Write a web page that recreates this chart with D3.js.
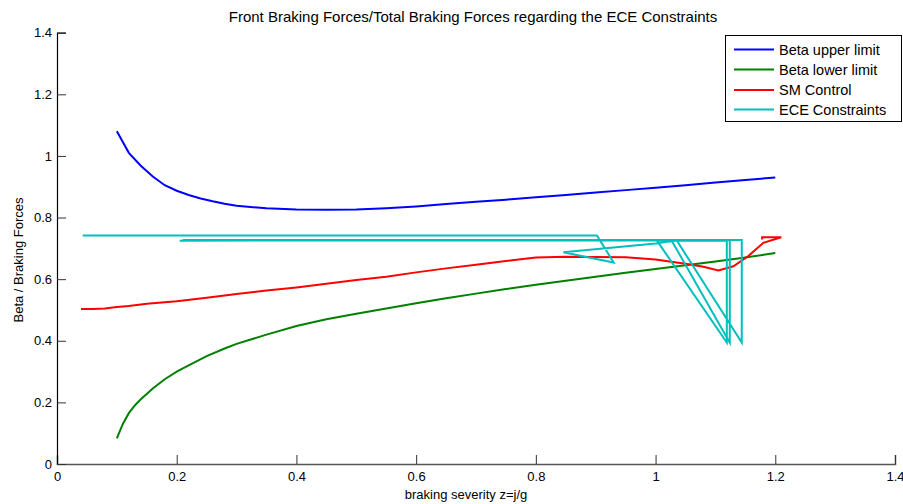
<!DOCTYPE html>
<html><head><meta charset="utf-8">
<script src="https://cdn.jsdelivr.net/npm/d3@7"></script>
<style>body{margin:0;background:#fff}svg{display:block;font-family:"Liberation Sans",Arial,sans-serif}</style>
</head><body><svg id="c" width="903" height="504"></svg>
<script>
const title = "Front Braking Forces/Total Braking Forces regarding the ECE Constraints";
const xLabel = "braking severity z=j/g";
const yLabel = "Beta / Braking Forces";
const xTicks = [0, 0.2, 0.4, 0.6, 0.8, 1, 1.2, 1.4];
const yTicks = [0, 0.2, 0.4, 0.6, 0.8, 1, 1.2, 1.4];
const seriesNames = ["Beta upper limit", "Beta lower limit", "SM Control", "ECE Constraints"];
const seriesColors = ["#0000ff", "#008000", "#ff0000", "#00bfbf"];

const upperX = [0.10,0.12,0.14,0.16,0.18,0.20,0.22,0.24,0.26,0.28,0.30,0.35,0.40,0.45,0.50,0.55,0.60,0.65,0.70,0.75,0.80,0.85,0.90,0.95,1.00,1.05,1.10,1.15,1.20];
const upperY = [1.08,1.01,0.968,0.933,0.905,0.887,0.873,0.862,0.853,0.845,0.838,0.830,0.826,0.825,0.826,0.830,0.836,0.844,0.851,0.858,0.866,0.873,0.881,0.889,0.897,0.905,0.914,0.922,0.930];

const lowerX = [0.10,0.11,0.12,0.13,0.14,0.16,0.18,0.20,0.22,0.25,0.28,0.30,0.35,0.40,0.45,0.50,0.55,0.60,0.65,0.70,0.75,0.80,0.85,0.90,0.95,1.00,1.05,1.10,1.15,1.20];
const lowerY = [0.083,0.13,0.165,0.19,0.21,0.245,0.275,0.30,0.32,0.35,0.375,0.39,0.42,0.448,0.47,0.488,0.505,0.522,0.538,0.553,0.568,0.582,0.595,0.608,0.621,0.633,0.645,0.657,0.670,0.685];

const smX = [0.04,0.06,0.08,0.10,0.12,0.15,0.20,0.25,0.30,0.35,0.40,0.45,0.50,0.55,0.60,0.65,0.70,0.75,0.80,0.85,0.90,0.95,1.00,1.05,1.08,1.105,1.13,1.155,1.18,1.21,1.178,1.178];
const smY = [0.503,0.503,0.505,0.510,0.513,0.520,0.528,0.540,0.552,0.563,0.573,0.585,0.597,0.608,0.622,0.635,0.647,0.659,0.670,0.673,0.672,0.671,0.664,0.650,0.640,0.628,0.642,0.675,0.718,0.736,0.736,0.729];

const eceX = [0.043,0.902,0.930,0.846,1.000,1.035,0.205,1.002,1.119,1.119,1.027,1.124,1.124,1.035,1.144,1.144,0.210];
const eceY = [0.742,0.742,0.654,0.687,0.716,0.726,0.725,0.726,0.394,0.725,0.725,0.394,0.726,0.727,0.394,0.727,0.727];

const svg = d3.select("#c");
const x = d3.scaleLinear().domain([0, 1.4]).range([57, 895]);
const y = d3.scaleLinear().domain([0, 1.4]).range([464, 32.7]);

// x axis
const xa = svg.append("g").attr("transform", "translate(0,464)")
  .call(d3.axisBottom(x).tickValues(xTicks).tickSize(-9).tickPadding(8).tickFormat(d3.format("~g")));
xa.select(".domain").attr("stroke", "#555").attr("stroke-width", 1.5);
xa.selectAll(".tick line").attr("stroke", "#333");
xa.selectAll(".tick text").attr("font-size", 13).attr("fill", "#000").attr("font-family", "Liberation Sans, Arial, sans-serif");

// y axis
const ya = svg.append("g").attr("transform", "translate(57,0)")
  .call(d3.axisLeft(y).tickValues(yTicks).tickSize(-9).tickPadding(5).tickFormat(d3.format("~g")));
ya.select(".domain").attr("stroke", "#000").attr("stroke-width", 1.2);
ya.selectAll(".tick line").attr("stroke", "#333");
ya.selectAll(".tick text").attr("font-size", 13).attr("fill", "#000").attr("font-family", "Liberation Sans, Arial, sans-serif");

const line = d3.line().x(d => x(d[0])).y(d => y(d[1]));
const series = [
  d3.zip(upperX, upperY),
  d3.zip(lowerX, lowerY),
  d3.zip(smX, smY),
  d3.zip(eceX, eceY)
];
series.forEach((s, i) => {
  svg.append("path").datum(s).attr("d", line).attr("fill", "none")
    .attr("stroke", seriesColors[i]).attr("stroke-width", 2).attr("stroke-linejoin", "miter");
});

// title & labels
svg.append("text").attr("x", 473).attr("y", 22).attr("text-anchor", "middle").attr("font-size", 15).text(title);
svg.append("text").attr("x", 466).attr("y", 499).attr("text-anchor", "middle").attr("font-size", 13).text(xLabel);
svg.append("text").attr("transform", "translate(23,260) rotate(-90)").attr("text-anchor", "middle").attr("font-size", 13).text(yLabel);

// legend
const lg = svg.append("g");
lg.append("rect").attr("x", 725.5).attr("y", 35.5).attr("width", 176).attr("height", 86)
  .attr("fill", "#fff").attr("stroke", "#000").attr("stroke-width", 1);
const ly = [49.5, 69.5, 90, 109.5];
seriesNames.forEach((n, i) => {
  lg.append("line").attr("x1", 734).attr("x2", 774).attr("y1", ly[i]).attr("y2", ly[i])
    .attr("stroke", seriesColors[i]).attr("stroke-width", 2);
  lg.append("text").attr("x", 779).attr("y", ly[i] + 5).attr("font-size", 14.5).text(n);
});
</script>
</body></html>
